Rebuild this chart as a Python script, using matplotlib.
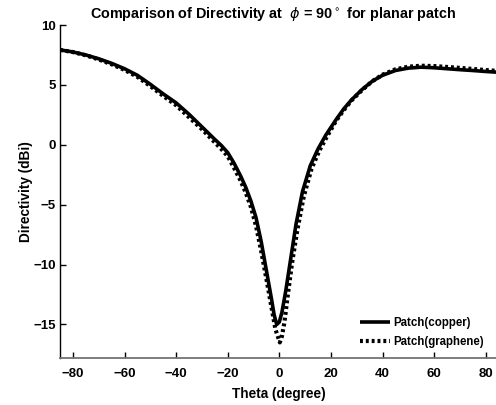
import matplotlib
matplotlib.use("Agg")
import matplotlib.pyplot as plt

plt.rcParams['font.family'] = ['Liberation Sans', 'DejaVu Sans']
plt.rcParams['mathtext.fontset'] = 'dejavusans'

theta_copper = [-85, -80, -75, -70, -65, -60, -55, -50, -45, -40, -35, -30, -25, -22.5, -20,
                -17.5, -15, -13, -11, -9, -7, -5, -3, -2, -1, 0, 1, 2.5, 4.5, 6.5, 9, 12,
                15, 18, 22, 25, 28, 32, 36, 40, 45, 50, 55, 60, 65, 70, 75, 80, 85]
dir_copper = [7.92, 7.75, 7.5, 7.18, 6.8, 6.35, 5.8, 5.05, 4.25, 3.5, 2.55, 1.5, 0.45, -0.05,
              -0.65, -1.55, -2.6, -3.55, -4.7, -6.1, -8.1, -10.5, -12.9, -14.2, -15.0, -14.8,
              -14.0, -12.2, -9.4, -6.6, -3.9, -1.75, -0.35, 0.8, 2.1, 3.0, 3.75, 4.6, 5.3,
              5.8, 6.2, 6.4, 6.48, 6.43, 6.35, 6.27, 6.2, 6.12, 6.05]

theta_graphene = [-85, -80, -75, -70, -65, -60, -55, -50, -45, -40, -35, -30, -25, -22.5, -20,
                  -17.5, -15, -13, -11, -9, -7, -5, -3, -1.5, 0.2, 1, 2, 3.5, 5, 7, 9.5, 12.5,
                  15.5, 18.5, 22, 25, 28, 32, 36, 40, 45, 50, 55, 60, 65, 70, 75, 80, 85]
dir_graphene = [7.92, 7.74, 7.47, 7.12, 6.72, 6.25, 5.67, 4.9, 4.08, 3.3, 2.3, 1.3, 0.2, -0.35,
                -0.95, -1.95, -3.0, -4.0, -5.2, -6.8, -8.9, -11.2, -13.6, -15.4, -16.5, -16.0,
                -14.8, -12.2, -9.8, -7.1, -4.3, -2.0, -0.5, 0.7, 2.0, 2.9, 3.7, 4.55, 5.3,
                5.85, 6.3, 6.52, 6.6, 6.57, 6.5, 6.42, 6.33, 6.24, 6.16]

x_ticks = [-80, -60, -40, -20, 0, 20, 40, 60, 80]
y_ticks = [-15, -10, -5, 0, 5, 10]

fig = plt.figure(figsize=(4.96, 4.05), dpi=100)
ax = fig.add_axes([60 / 496, 1 - 358 / 405, 438.6 / 496, 333 / 405])

ax.plot(theta_copper, dir_copper, color='black', lw=2.6, solid_capstyle='butt',
        solid_joinstyle='round', label='Patch(copper)')
ax.plot(theta_graphene, dir_graphene, color='black', lw=3.0,
        linestyle=(0, (0.7, 0.7)), dash_capstyle='butt', label='Patch(graphene)')

ax.set_xlim(-85, 85)
ax.set_ylim(-17.8, 10)
ax.set_xticks(x_ticks)
ax.set_yticks(y_ticks)

for side in ('top', 'right'):
    ax.spines[side].set_visible(False)
ax.spines['left'].set_linewidth(1.0)
ax.spines['bottom'].set_linewidth(1.3)
ax.spines['bottom'].set_color('0.45')

ax.tick_params(direction='in', length=4, width=1, labelsize=9.5)
ax.tick_params(axis='x', pad=7)
ax.tick_params(axis='y', pad=3)
for lbl in ax.get_xticklabels() + ax.get_yticklabels():
    lbl.set_fontweight('bold')

ax.set_xlabel('Theta (degree)', fontsize=9.8, fontweight='bold', labelpad=5)
ax.set_ylabel('Directivity (dBi)', fontsize=9.8, fontweight='bold', labelpad=0)
fig.text(0.55, 0.965, r'Comparison of Directivity at  $\phi$ = 90$^\circ$ for planar patch',
         ha='center', va='center', fontsize=10.4, fontweight='bold')

ax.legend(loc='lower right', bbox_to_anchor=(0.99, 0.0), frameon=False,
          handlelength=2.6, handletextpad=0.3, labelspacing=0.6,
          prop={'weight': 'bold', 'size': 8.3})

fig.savefig('out.png', dpi=100)
